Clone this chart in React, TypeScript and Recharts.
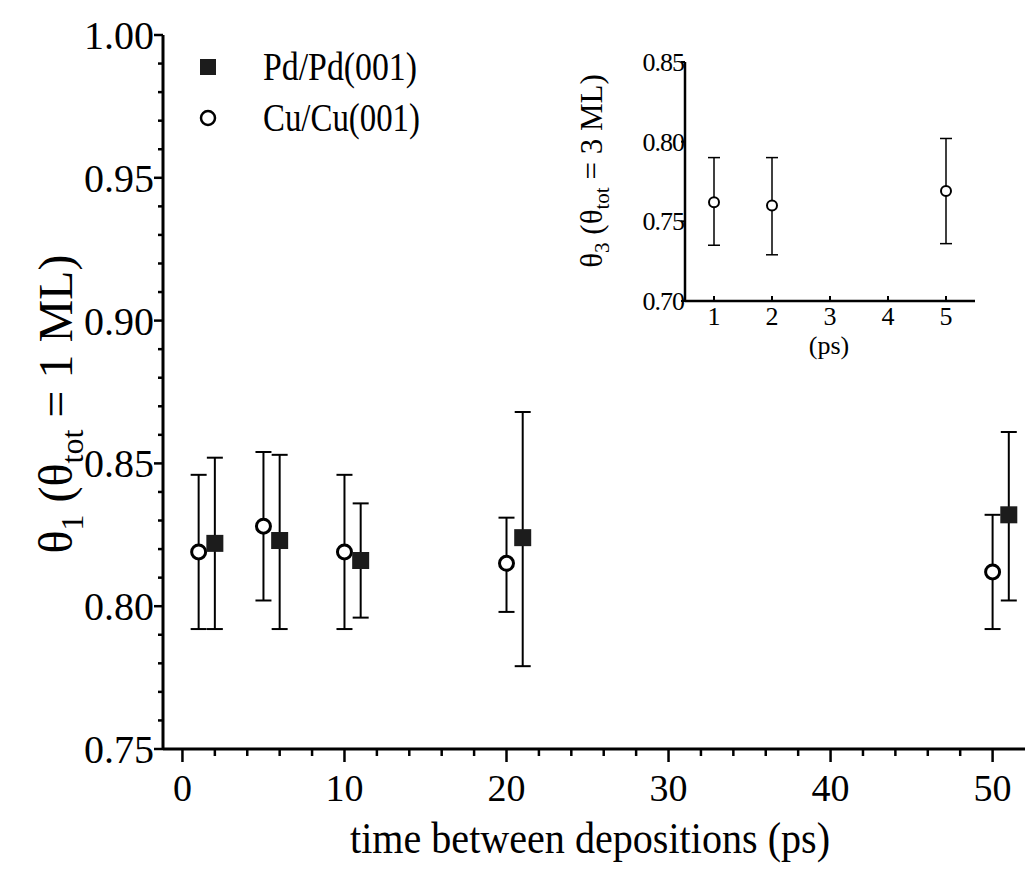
import React from "react";
import { ScatterChart, Scatter, XAxis, YAxis, ErrorBar, Legend, Label } from "recharts";

// Pd/Pd(001): time between depositions (ps), theta_1 and error bounds
const pdTime = [2, 6, 11, 21, 51];
const pdTheta = [0.822, 0.823, 0.816, 0.824, 0.832];
const pdLow = [0.792, 0.792, 0.796, 0.779, 0.802];
const pdHigh = [0.852, 0.853, 0.836, 0.868, 0.861];

// Cu/Cu(001)
const cuTime = [1, 5, 10, 20, 50];
const cuTheta = [0.819, 0.828, 0.819, 0.815, 0.812];
const cuLow = [0.792, 0.802, 0.792, 0.798, 0.792];
const cuHigh = [0.846, 0.854, 0.846, 0.831, 0.832];

// inset: theta_3 at 3 ML
const insetTime = [1, 2, 5];
const insetTheta = [0.762, 0.76, 0.769];
const insetLow = [0.735, 0.729, 0.736];
const insetHigh = [0.79, 0.79, 0.802];

const xMajorTicks = [0, 10, 20, 30, 40, 50];
const xAllTicks = [0, 2, 4, 6, 8, 10, 12, 14, 16, 18, 20, 22, 24, 26, 28, 30, 32, 34, 36, 38, 40, 42, 44, 46, 48, 50];
const yMajorTicks = [0.75, 0.8, 0.85, 0.9, 0.95, 1.0];
const yAllTicks = [
  0.75, 0.76, 0.77, 0.78, 0.79, 0.8, 0.81, 0.82, 0.83, 0.84, 0.85, 0.86, 0.87,
  0.88, 0.89, 0.9, 0.91, 0.92, 0.93, 0.94, 0.95, 0.96, 0.97, 0.98, 0.99, 1.0,
];
const insetXTicks = [1, 2, 3, 4, 5];
const insetYTicks = [0.7, 0.75, 0.8, 0.85];
const seriesNames = ["Pd/Pd(001)", "Cu/Cu(001)"];

const FONT = "'Liberation Serif', 'Times New Roman', serif";

const toRows = (xs: number[], ys: number[], lo: number[], hi: number[]) =>
  xs.map((x, i) => ({ x, y: ys[i], err: [ys[i] - lo[i], hi[i] - ys[i]] }));

const pdData = toRows(pdTime, pdTheta, pdLow, pdHigh);
const cuData = toRows(cuTime, cuTheta, cuLow, cuHigh);
const insetData = toRows(insetTime, insetTheta, insetLow, insetHigh);

const isMajor = (list: number[], v: number) => list.some((m) => Math.abs(m - v) < 1e-6);

const SquareDot = (p: any) => (
  <rect x={p.cx - 8.5} y={p.cy - 8.5} width={17} height={17} fill="#1c1c1c" />
);
const CircleDot = (p: any) => (
  <circle cx={p.cx} cy={p.cy} r={7} fill="#fff" stroke="#000" strokeWidth={3} />
);
const SmallCircle = (p: any) => (
  <circle cx={p.cx} cy={p.cy} r={5} fill="#fff" stroke="#000" strokeWidth={2} />
);

function MainXTick({ x, y, payload }: any) {
  const major = isMajor(xMajorTicks, payload.value);
  return (
    <g>
      <line x1={x} x2={x} y1={y} y2={y + (major ? 13 : 7)} stroke="#000" strokeWidth={2.5} />
      {major && (
        <text x={x} y={y + 52} textAnchor="middle" fontSize={38} fontFamily={FONT} fill="#000">
          {payload.value}
        </text>
      )}
    </g>
  );
}

function MainYTick({ x, y, payload }: any) {
  const major = isMajor(yMajorTicks, payload.value);
  return (
    <g>
      <line x1={x - (major ? 9 : 5)} x2={x} y1={y} y2={y} stroke="#000" strokeWidth={2.5} />
      {major && (
        <text x={x - 9} y={y + 14} textAnchor="end" fontSize={40} fontFamily={FONT} fill="#000">
          {payload.value.toFixed(2)}
        </text>
      )}
    </g>
  );
}

function InsetXTick({ x, y, payload }: any) {
  return (
    <g>
      <line x1={x} x2={x} y1={y} y2={y - 5} stroke="#000" strokeWidth={2} />
      <text x={x} y={y + 24} textAnchor="middle" fontSize={26} fontFamily={FONT} fill="#000">
        {payload.value}
      </text>
    </g>
  );
}

function InsetYTick({ x, y, payload }: any) {
  return (
    <g>
      <line x1={x - 4} x2={x} y1={y} y2={y} stroke="#000" strokeWidth={2} />
      <text x={x - 1} y={y + 9} textAnchor="end" fontSize={26} fontFamily={FONT} fill="#000" letterSpacing={-1}>
        {payload.value.toFixed(2)}
      </text>
    </g>
  );
}

function LegendBox() {
  return (
    <svg width={300} height={120} style={{ display: "block", overflow: "visible" }}>
      <rect x={10} y={19} width={16} height={16} fill="#1c1c1c" />
      <text x={73} y={40} fontSize={40} fontFamily={FONT} textLength={154} lengthAdjust="spacingAndGlyphs">
        {seriesNames[0]}
      </text>
      <circle cx={18} cy={78} r={7} fill="#fff" stroke="#000" strokeWidth={2.5} />
      <text x={73} y={91} fontSize={40} fontFamily={FONT} textLength={157} lengthAdjust="spacingAndGlyphs">
        {seriesNames[1]}
      </text>
    </svg>
  );
}

export default function App() {
  return (
    <div style={{ position: "absolute", left: 0, top: 0, width: 1025, height: 887, background: "#fff" }}>
      <ScatterChart width={1025} height={887} margin={{ top: 35, right: 0, bottom: 88, left: 103 }}>
        <XAxis
          type="number"
          dataKey="x"
          domain={[-1.2, 52]}
          ticks={xAllTicks}
          interval={0}
          tickSize={0}
          tickMargin={0}
          tick={<MainXTick />}
          axisLine={{ stroke: "#000", strokeWidth: 3 }}
          height={50}
          allowDataOverflow
        >
          <Label
            content={() => (
              <text x={590} y={853} textAnchor="middle" fontSize={44} fontFamily={FONT} textLength={480} lengthAdjust="spacingAndGlyphs">
                time between depositions (ps)
              </text>
            )}
          />
        </XAxis>
        <YAxis
          type="number"
          dataKey="y"
          domain={[0.75, 1.0]}
          ticks={yAllTicks}
          interval={0}
          tickSize={0}
          tickMargin={0}
          tick={<MainYTick />}
          axisLine={{ stroke: "#000", strokeWidth: 3 }}
          width={60}
          allowDataOverflow
        >
          <Label
            content={() => (
              <text transform="translate(72,404) rotate(-90)" textAnchor="middle" fontSize={48} fontFamily={FONT}>
                θ<tspan dy={11} fontSize={32}>1</tspan>
                <tspan dy={-11}>{"  (θ"}</tspan>
                <tspan dy={11} fontSize={32}>tot</tspan>
                <tspan dy={-11}> = 1 ML)</tspan>
              </text>
            )}
          />
        </YAxis>
        <Legend
          layout="horizontal"
          verticalAlign="middle"
          align="center"
          wrapperStyle={{ left: 190, top: 40, width: 300, height: 120 }}
          content={() => <LegendBox />}
        />
        <Scatter name={seriesNames[1]} data={cuData} shape={CircleDot} isAnimationActive={false}>
          <ErrorBar dataKey="err" direction="y" width={8} stroke="#000" strokeWidth={2} />
        </Scatter>
        <Scatter name={seriesNames[0]} data={pdData} shape={SquareDot} isAnimationActive={false}>
          <ErrorBar dataKey="err" direction="y" width={8} stroke="#000" strokeWidth={2} />
        </Scatter>
      </ScatterChart>

      <div style={{ position: "absolute", left: 560, top: 20, width: 440, height: 360 }}>
        <ScatterChart width={440} height={360} margin={{ top: 42, right: 25, bottom: 49, left: 75 }}>
          <XAxis
            type="number"
            dataKey="x"
            domain={[0.5, 5.5]}
            ticks={insetXTicks}
            interval={0}
            tickSize={0}
            tickMargin={0}
            tick={<InsetXTick />}
            axisLine={{ stroke: "#000", strokeWidth: 2.5 }}
            height={30}
            allowDataOverflow
          >
            <Label
              content={() => (
                <text x={269} y={334} textAnchor="middle" fontSize={26} fontFamily={FONT}>
                  (ps)
                </text>
              )}
            />
          </XAxis>
          <YAxis
            type="number"
            dataKey="y"
            domain={[0.7, 0.85]}
            ticks={insetYTicks}
            interval={0}
            tickSize={0}
            tickMargin={0}
            tick={<InsetYTick />}
            axisLine={{ stroke: "#000", strokeWidth: 2.5 }}
            width={50}
            allowDataOverflow
          >
            <Label
              content={() => (
                <text transform="translate(42,151) rotate(-90)" textAnchor="middle" fontSize={31} fontFamily={FONT}>
                  θ<tspan dy={7} fontSize={21}>3</tspan>
                  <tspan dy={-7}>{" (θ"}</tspan>
                  <tspan dy={7} fontSize={21}>tot</tspan>
                  <tspan dy={-7}> = 3 ML)</tspan>
                </text>
              )}
            />
          </YAxis>
          <Scatter data={insetData} shape={SmallCircle} isAnimationActive={false}>
            <ErrorBar dataKey="err" direction="y" width={6} stroke="#000" strokeWidth={1.5} />
          </Scatter>
        </ScatterChart>
      </div>
    </div>
  );
}
